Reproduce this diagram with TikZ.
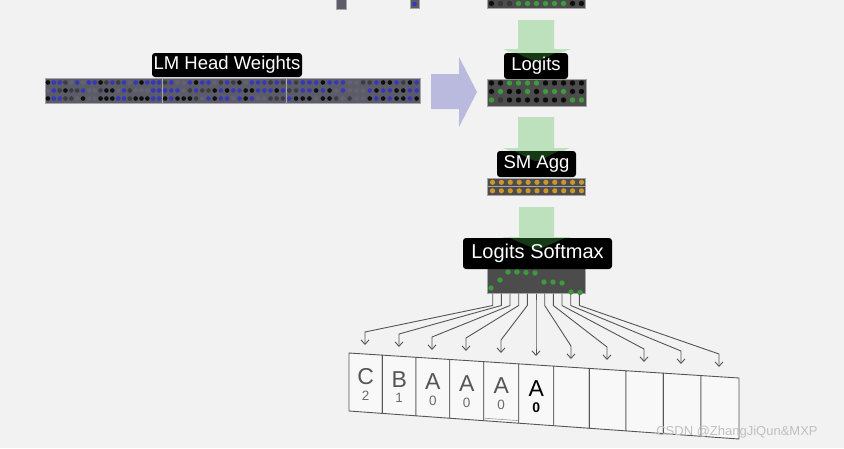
\documentclass[tikz,border=0pt]{standalone}
\usepackage{fontspec}
\setmainfont{Liberation Sans}
\usetikzlibrary{arrows.meta,calc}
\definecolor{bgc}{RGB}{242,242,242}
\definecolor{lmfill}{RGB}{92,92,104}
\definecolor{lmborder}{RGB}{165,165,170}
\definecolor{lmc1}{RGB}{55,55,185}
\definecolor{lmc2}{RGB}{55,55,185}
\definecolor{lmc3}{RGB}{15,15,15}
\definecolor{lmc4}{RGB}{60,60,66}
\definecolor{lmc5}{RGB}{100,100,112}
\definecolor{blk}{RGB}{76,76,76}
\definecolor{gd1}{RGB}{60,155,60}
\definecolor{gd2}{RGB}{12,12,12}
\definecolor{gd3}{RGB}{55,55,55}
\definecolor{orng}{RGB}{205,150,45}
\definecolor{agreen}{RGB}{189,224,189}
\definecolor{hdark}{RGB}{22,58,22}
\definecolor{lav}{RGB}{186,186,222}
\definecolor{linec}{RGB}{85,85,85}
\definecolor{cellc}{RGB}{248,248,248}
\definecolor{wmc}{RGB}{192,192,192}
\begin{document}
\begin{tikzpicture}[x=1pt,y=-1pt,
  lmblock/.style={draw=lmborder, line width=0.8pt, fill=lmfill, inner sep=0, outer sep=0},
  dkblock/.style={draw=lmborder, line width=0.8pt, fill=blk, inner sep=0, outer sep=0},
  lbl/.style={fill=black, text=white, rounded corners=3pt, inner sep=0,
    font=\fontsize{18.5}{20}\selectfont},
  glow/.style 2 args={path picture={\fill[hdark]
    ([xshift=-#1pt,yshift=2pt]path picture bounding box.north) --
    ([xshift=#1pt,yshift=2pt]path picture bounding box.north) --
    ([yshift=-#2pt]path picture bounding box.north) -- cycle;}},
  conn/.style={draw=linec, line width=0.9pt, -{Straight Barb[length=4.5pt,width=8pt]}},
  cell/.style={fill=cellc, draw=linec, line width=0.9pt, line join=round},
  letter/.style={inner sep=0, text=linec, font=\fontsize{23}{24}\selectfont},
  digit/.style={inner sep=0, text=gray!85!black, font=\fontsize{13.5}{14}\selectfont},
  wm/.style={inner sep=0, text=wmc, font=\fontsize{13}{14}\selectfont}]
\useasboundingbox (0,0) rectangle (844,448);
\fill[bgc] (0,0) rectangle (844,448);

% ---- partial blocks at the top edge
\node[lmblock, minimum width=10, minimum height=16] (topa) at (341,1) {};
\node[lmblock, minimum width=9, minimum height=16] (topb) at (414.5,0) {};
\fill[lmc1] (414.5,4) circle (2.3);
\node[dkblock, minimum width=98, minimum height=16] (topc) at (536,0) {};
\foreach \c [count=\i from 0] in {2,3,3,1,1,1,1,1,1,2,2}
  \fill[gd\c] ({491.5+9*\i},3.5) circle (2.7);

% ---- LM head weights bar
\node[lmblock, minimum width=375, minimum height=25] (lmw) at (232.5,90.5) {};
\draw[lmborder, line width=0.6pt] (162,78) -- (162,103) (286,78) -- (286,103);
\pgfmathsetseed{4242}
\foreach \a/\b in {45/162,162/286,286/420}
  \foreach \j in {0,...,19}
    \foreach \y in {82.5,90.5,98.5}{
      \pgfmathrandominteger{\c}{1}{5}
      \fill[lmc\c] ({\a+(\b-\a)*(\j+0.5)/20},\y) circle (2.3);
    }

% ---- Logits block
\node[dkblock, minimum width=99, minimum height=27] (logits) at (536.5,92.5) {};
\foreach \y/\cols in {83/{2,2,1,1,1,1,2,2,2,2,2},91.5/{2,1,2,2,1,2,1,1,1,2,2},100/{1,3,2,2,2,2,2,2,2,1,1}}
  \foreach \c [count=\i from 0] in \cols
    \fill[gd\c] ({491.5+9*\i},\y) circle (2.7);

% ---- SM Agg block (two rows)
\node[dkblock, minimum width=98, minimum height=8.5] (smagg1) at (536,182.3) {};
\node[dkblock, minimum width=98, minimum height=8.5] (smagg2) at (536,190.8) {};
\foreach \i in {0,...,10}{
  \fill[orng] ({492.5+8.9*\i},182.3) circle (2.6);
  \fill[orng] ({492.5+8.9*\i},190.8) circle (2.6);
}

% ---- Logits Softmax block
\node[dkblock, minimum width=98, minimum height=32] (soft) at (536,277) {};
\foreach \x/\y in {508/272,517/272,526/272.5,535/273,500/280,491/288,544/282,553/282,562/283,571/292,580/292.5}
  \fill[gd1] (\x,\y) circle (2.7);

% ---- big arrows
\fill[lav] (431,74) -- (459,74) -- (459,57) -- (477,92) -- (459,127) -- (459,109) -- (431,109) -- cycle;
\fill[agreen] (518,20) -- (554,20) -- (554,49) -- (571,49) -- (536,62) -- (503,49) -- (518,49) -- cycle;
\fill[agreen] (518,117) -- (554,117) -- (554,148) -- (570,148) -- (536.5,162) -- (503,148) -- (518,148) -- cycle;
\fill[agreen] (519,207) -- (554,207) -- (554,237) -- (571,237) -- (536.5,250) -- (502,237) -- (519,237) -- cycle;

% ---- labels
\node[lbl, minimum width=150, minimum height=24] (lmlbl) at (227,65) {LM Head Weights};
\node[lbl, glow={24}{9}, minimum width=64, minimum height=26] (logitsl) at (536,66) {Logits};
\node[lbl, glow={26}{11}, minimum width=79, minimum height=26] (smaggl) at (536.5,164) {SM Agg};
\node[lbl, glow={32}{12}, minimum width=149, minimum height=31, font=\fontsize{20}{22}\selectfont] (softl) at (537.5,253.5) {Logits Softmax};

% ---- output cells
\foreach \xa/\xb in {349/382.3,382.3/416,416/449.7,449.7/483.7,483.7/518.7,518.7/553.7,553.7/589.3,589.3/626,626/663.3,663.3/701,701/739}
  \filldraw[cell] (\xa,{353+(\xa-349)*25/390}) -- (\xb,{353+(\xb-349)*25/390})
     -- (\xb,{411+(\xb-349)*28/390}) -- (\xa,{411+(\xa-349)*28/390}) -- cycle;
\draw[linec!60, line width=0.6pt] (484.5,418.2) -- (518,420.6);

\foreach \i/\cx/\L/\n in {1/365.7/C/2,2/399.2/B/1,3/432.9/A/0,4/466.7/A/0,5/501.2/A/0}{
  \node[letter] (L\i) at (\cx,{353+(\cx-349)*25/390+23}) {\L};
  \node[digit] (D\i) at (\cx,{353+(\cx-349)*25/390+42}) {\n};
}
\node[letter, text=black] (L6) at (536.2,{353+(536.2-349)*25/390+23.5}) {A};
\node[digit, text=black, font=\fontsize{14}{15}\bfseries] (D6) at (536.2,{353+(536.2-349)*25/390+43}) {0};

% ---- connectors
\foreach \i/\sx/\tx/\ty in {1/492.7/365/345,2/501.3/399/347,3/510/432/350,4/518.7/466/351,5/527.3/501/353,6/536/536/356,7/544.7/571/359,8/553.3/607/360,9/562/644/362,10/570.7/681/364,11/579.3/719/367}{
  \coordinate (s\i) at (\sx,293.5);
  \coordinate (t\i) at (\tx,\ty);
  \draw[conn] (s\i) -- ++(0,12) -- ($(t\i)+(0,-13)$) -- (t\i);
}

% ---- watermark
\node[wm] (wm) at (737,432) {CSDN @ZhangJiQun\&MXP};
\end{tikzpicture}
\end{document}
